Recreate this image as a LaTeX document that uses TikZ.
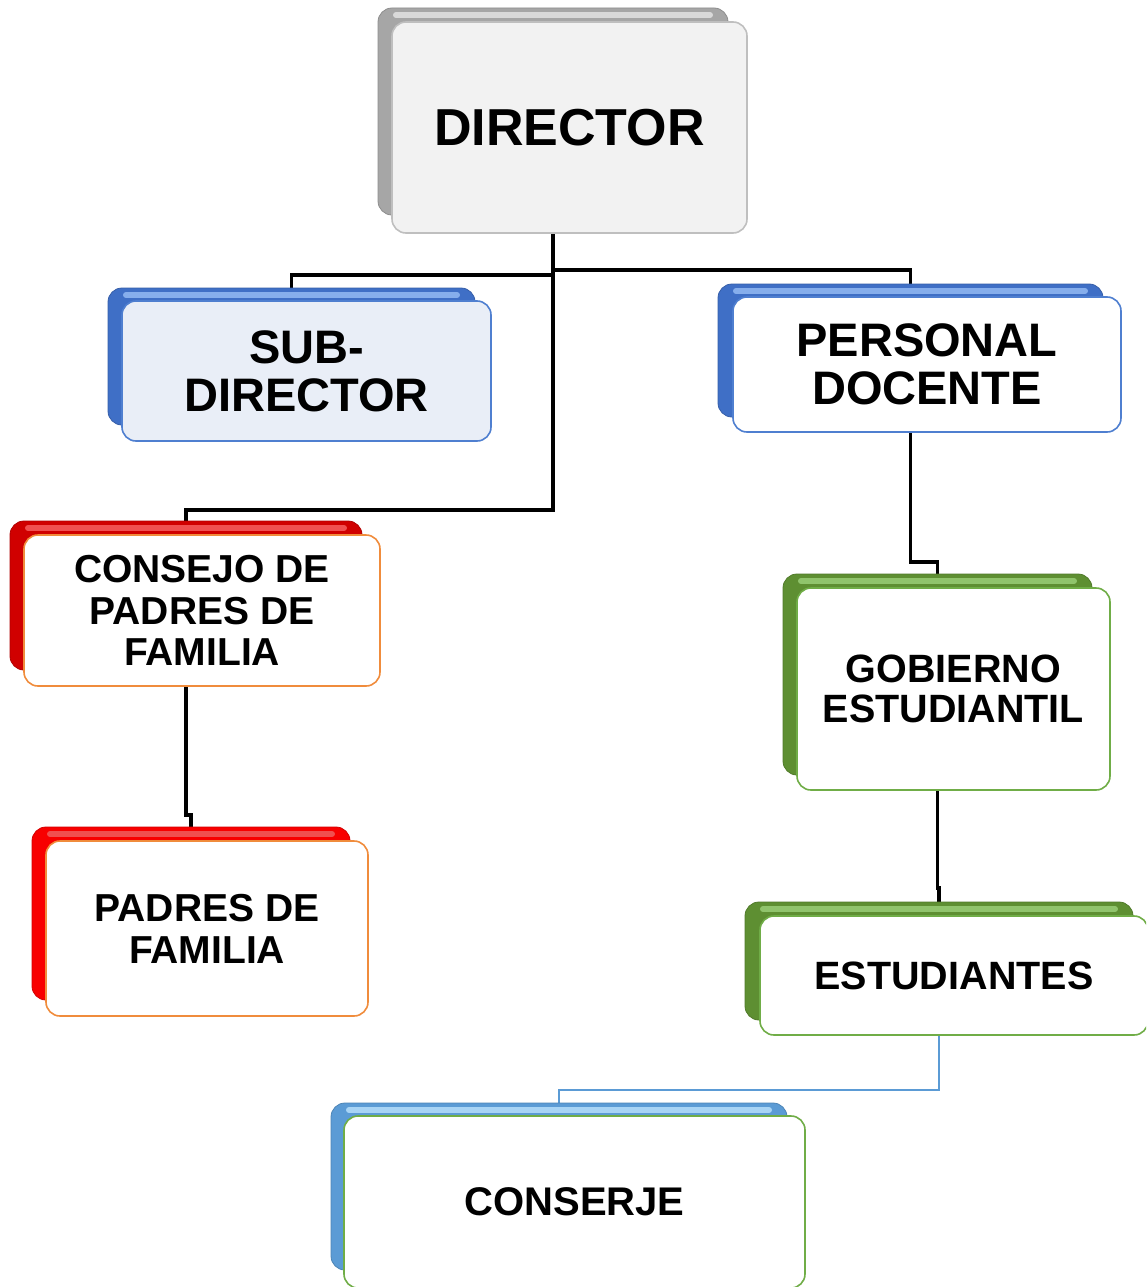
\documentclass[tikz,border=0pt]{standalone}
\usepackage{fontspec}
\setmainfont{Liberation Sans}
\usetikzlibrary{backgrounds}
\definecolor{grayD}{HTML}{A6A6A6}
\definecolor{grayL}{HTML}{D9D9D9}
\definecolor{grayB}{HTML}{BFBFBF}
\definecolor{grayF}{HTML}{F2F2F2}
\definecolor{blueD}{HTML}{3F6FC6}
\definecolor{blueL}{HTML}{86AEEC}
\definecolor{blueB}{HTML}{4F7FD0}
\definecolor{blueF}{HTML}{E9EEF7}
\definecolor{redD}{HTML}{D00000}
\definecolor{redL}{HTML}{F05050}
\definecolor{redP}{HTML}{F80000}
\definecolor{orangeB}{HTML}{F08C3C}
\definecolor{greenD}{HTML}{5E8F32}
\definecolor{greenL}{HTML}{90C46C}
\definecolor{greenB}{HTML}{70AD47}
\definecolor{lblueD}{HTML}{5B9BD5}
\definecolor{lblueL}{HTML}{A8D4F5}
\tikzset{
  backbox/.style 2 args={rounded corners=14pt, fill=#1, draw=#1!85!black, line width=0.8pt,
    inner sep=0pt, outer sep=0pt,
    path picture={\draw[#2, line width=6pt, line cap=round]
      ([xshift=18pt,yshift=-7pt]path picture bounding box.north west) --
      ([xshift=-18pt,yshift=-7pt]path picture bounding box.north east);}},
  frontbox/.style={rounded corners=14pt, fill=white, draw=#1, line width=1.6pt,
    inner sep=0pt, outer sep=0pt, align=center, font=\bfseries},
  conn/.style={draw=black, line width=3.5pt},
  connlight/.style={draw=lblueD, line width=2pt},
}
\begin{document}
\begin{tikzpicture}[x=1pt,y=-1pt]
\useasboundingbox (0,0) rectangle (1146,1287);
\clip (0,0) rectangle (1146,1287);
% director
\node[backbox={grayD}{grayL}, minimum width=350pt, minimum height=207pt] (dirB) at (553,111.5) {};
\node[frontbox=grayB, fill=grayF, minimum width=355pt, minimum height=211pt,
  font=\bfseries\fontsize{52}{54}\selectfont] (dir) at (569.5,127.5) {DIRECTOR};
% sub-director
\node[backbox={blueD}{blueL}, minimum width=367pt, minimum height=137pt] (subB) at (291.5,356.5) {};
\node[frontbox=blueB, fill=blueF, minimum width=369pt, minimum height=140pt,
  font=\bfseries\fontsize{47}{48}\selectfont] (sub) at (306.5,371) {SUB-\\DIRECTOR};
% personal docente
\node[backbox={blueD}{blueL}, minimum width=385pt, minimum height=133pt] (persB) at (910.5,350.5) {};
\node[frontbox=blueB, minimum width=388pt, minimum height=135pt,
  font=\bfseries\fontsize{47}{48}\selectfont] (pers) at (927,364.5) {PERSONAL\\DOCENTE};
% consejo
\node[backbox={redD}{redL}, minimum width=352pt, minimum height=149pt] (consB) at (186,595.5) {};
\node[frontbox=orangeB, minimum width=356pt, minimum height=151pt,
  font=\bfseries\fontsize{39}{41.5}\selectfont] (cons) at (202,610.5) {CONSEJO DE\\PADRES DE\\FAMILIA};
% padres
\node[backbox={redP}{redL}, minimum width=318pt, minimum height=173pt] (padB) at (191,913.5) {};
\node[frontbox=orangeB, minimum width=322pt, minimum height=175pt,
  font=\bfseries\fontsize{39}{42}\selectfont] (pad) at (207,928.5) {PADRES DE\\FAMILIA};
% gobierno
\node[backbox={greenD}{greenL}, minimum width=309pt, minimum height=201pt] (gobB) at (937.5,674.5) {};
\node[frontbox=greenB, minimum width=313pt, minimum height=202pt,
  font=\bfseries\fontsize{39.5}{39.5}\selectfont] (gob) at (953.5,689) {GOBIERNO\\ESTUDIANTIL};
% estudiantes
\node[backbox={greenD}{greenL}, minimum width=388pt, minimum height=118pt] (estB) at (939,961) {};
\node[frontbox=greenB, minimum width=388pt, minimum height=119pt,
  font=\bfseries\fontsize{39.5}{40}\selectfont] (est) at (954,975.5) {ESTUDIANTES};
% conserje
\node[backbox={lblueD}{lblueL}, minimum width=456pt, minimum height=167pt] (conB) at (559,1186.5) {};
\node[frontbox=greenB, minimum width=461pt, minimum height=172pt,
  font=\bfseries\fontsize{40}{40}\selectfont] (con) at (574.5,1202) {CONSERJE};
% connectors
\begin{pgfonlayer}{background}
\draw[conn] (dirB.south) -- ++(0,60) -| (subB.north);
\draw[conn] (dirB.south) -- ++(0,55) -| (persB.north);
\draw[conn] (dirB.south) -- ++(0,295) -| (consB.north);
\draw[conn] (consB.south) -- ++(0,145) -| (padB.north);
\draw[conn] (persB.south) -- ++(0,145) -| (gobB.north);
\draw[conn] (gobB.south) -- ++(0,113) -| (estB.north);
\draw[connlight] (estB.south) -- ++(0,70) -| (conB.north);
\end{pgfonlayer}
\end{tikzpicture}
\end{document}
